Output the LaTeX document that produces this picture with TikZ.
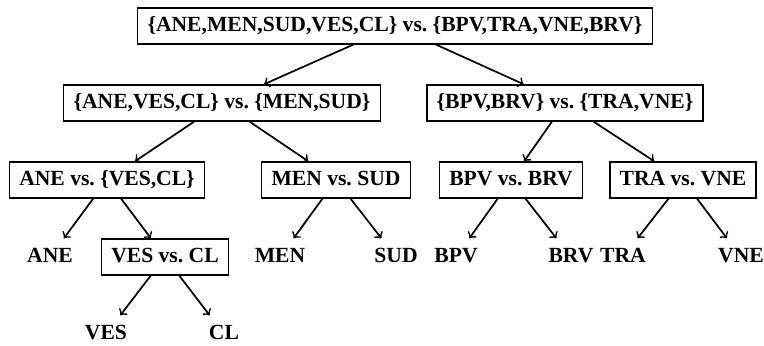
\documentclass[tikz,border=0pt]{standalone}
\usepackage{fontspec}
\setmainfont{Liberation Serif}

\begin{document}
\begin{tikzpicture}[x=0.463pt, y=-0.463pt,
        split/.style={draw, font=\bfseries, text height=7pt, text depth=2pt,
            inner xsep=4.5pt, inner ysep=3.85pt, line width=0.6pt},
        leaf/.style={split, draw=none},
        edge/.style={->, line width=0.8pt}]
        \useasboundingbox (0,0) rectangle (764,345);

        \node[split] (all) at (395,26) {\{ANE,MEN,SUD,VES,CL\} vs.\ \{BPV,TRA,VNE,BRV\}};

        \node[split] (left) at (222,103) {\{ANE,VES,CL\} vs.\ \{MEN,SUD\}};
        \node[split] (right) at (565,103) {\{BPV,BRV\} vs.\ \{TRA,VNE\}};

        \node[split] (ane) at (107,180) {ANE vs.\ \{VES,CL\}};
        \node[split] (men) at (336,180) {MEN vs.\ SUD};
        \node[split] (bpv) at (511,180) {BPV vs.\ BRV};
        \node[split] (tra) at (683,180) {TRA vs.\ VNE};

        \node[leaf] (aneleaf) at (50,257) {ANE};
        \node[split] (ves) at (165,257) {VES vs.\ CL};
        \node[leaf] (menleaf) at (280,257) {MEN};
        \node[leaf] (sudleaf) at (396,257) {SUD};
        \node[leaf] (bpvleaf) at (456,257) {BPV};
        \node[leaf] (brvleaf) at (571,257) {BRV};
        \node[leaf] (traleaf) at (623,257) {TRA};
        \node[leaf] (vneleaf) at (741,257) {VNE};

        \node[leaf] (vesleaf) at (106,334) {VES};
        \node[leaf] (clleaf) at (224,334) {CL};

        \draw[edge] (all) -- (left);
        \draw[edge] (all) -- (right);
        \draw[edge] (left) -- (ane);
        \draw[edge] (left) -- (men);
        \draw[edge] (right) -- (bpv);
        \draw[edge] (right) -- (tra);
        \draw[edge] (ane) -- (aneleaf);
        \draw[edge] (ane) -- (ves);
        \draw[edge] (men) -- (menleaf);
        \draw[edge] (men) -- (sudleaf);
        \draw[edge] (bpv) -- (bpvleaf);
        \draw[edge] (bpv) -- (brvleaf);
        \draw[edge] (tra) -- (traleaf);
        \draw[edge] (tra) -- (vneleaf);
        \draw[edge] (ves) -- (vesleaf);
        \draw[edge] (ves) -- (clleaf);
\end{tikzpicture}
\end{document}
